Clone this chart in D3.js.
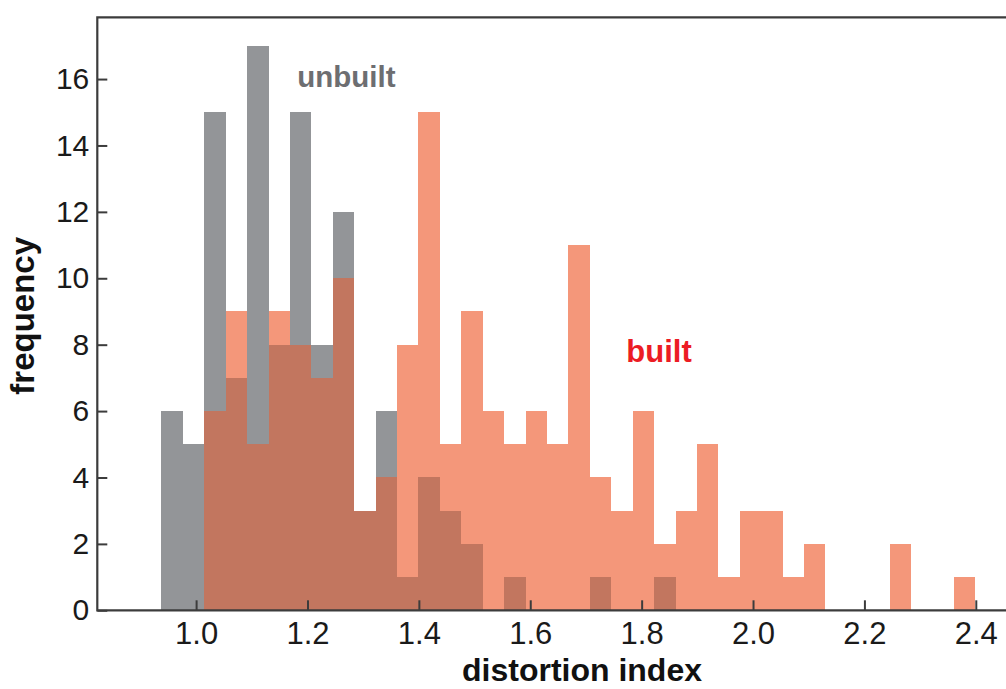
<!DOCTYPE html>
<html>
<head>
<meta charset="utf-8">
<script src="https://cdn.jsdelivr.net/npm/d3@7"></script>
<style>
  html, body { margin: 0; padding: 0; background: #fff; }
  svg { display: block; }
  text { font-family: "Liberation Sans", Arial, Helvetica, sans-serif; }
</style>
</head>
<body>
<svg id="chart" width="1006" height="689"></svg>
<script>
// Histogram binning (distortion index)
const binStart = 0.9377;
const binWidth = 0.038465;

// Counts per bin, unbuilt vs built
const unbuiltCounts = [6, 5, 15, 7, 17, 8, 15, 8, 12, 3, 6, 1, 4, 3, 2, 0, 1, 0, 0, 0,
                       1, 0, 0, 1, 0, 0, 0, 0, 0, 0, 0, 0, 0, 0, 0, 0, 0, 0];
const builtCounts   = [0, 0, 6, 9, 5, 9, 8, 7, 10, 3, 4, 8, 15, 5, 9, 6, 5, 6, 5, 11,
                       4, 3, 6, 2, 3, 5, 1, 3, 3, 1, 2, 0, 0, 0, 2, 0, 0, 1];

const xTicks = [1.0, 1.2, 1.4, 1.6, 1.8, 2.0, 2.2, 2.4];
const yTicks = [0, 2, 4, 6, 8, 10, 12, 14, 16];

const xDomain = [0.8226, 2.465];
const yDomain = [0, 17.86];

const colors = {
  unbuilt: "#939598",
  built: "#f4977a",
  overlap: "#c2765f",
  unbuiltText: "#6d6e71",
  builtText: "#ec1c24",
  axis: "#3c3c3c"
};

const svg = d3.select("#chart");
const plotLeft = 97.3, plotRight = 1012, plotTop = 17.3, plotBottom = 610.3;

const x = d3.scaleLinear().domain(xDomain).range([plotLeft, plotRight]);
const y = d3.scaleLinear().domain(yDomain).range([plotBottom, plotTop]);

const bins = unbuiltCounts.map((u, i) => ({
  x0: binStart + i * binWidth,
  x1: binStart + (i + 1) * binWidth,
  unbuilt: u,
  built: builtCounts[i],
  overlap: Math.min(u, builtCounts[i])
}));

function drawLayer(key, fill) {
  svg.append("g")
    .selectAll("rect")
    .data(bins.filter(d => d[key] > 0))
    .join("rect")
    .attr("x", d => x(d.x0))
    .attr("width", d => x(d.x1) - x(d.x0))
    .attr("y", d => y(d[key]))
    .attr("height", d => y(0) - y(d[key]))
    .attr("fill", fill)
    .attr("shape-rendering", "crispEdges");
}

drawLayer("unbuilt", colors.unbuilt);
drawLayer("built", colors.built);
drawLayer("overlap", colors.overlap);

// Axes with inward ticks
const xAxis = d3.axisBottom(x)
  .tickValues(xTicks)
  .tickFormat(d3.format(".1f"))
  .tickSizeInner(-10)
  .tickSizeOuter(0)
  .tickPadding(12);

const yAxis = d3.axisLeft(y)
  .tickValues(yTicks)
  .tickFormat(d3.format("d"))
  .tickSizeInner(-10)
  .tickSizeOuter(0)
  .tickPadding(8);

const gx = svg.append("g").attr("transform", `translate(0,${plotBottom})`).call(xAxis);
const gy = svg.append("g").attr("transform", `translate(${plotLeft},0)`).call(yAxis);

[gx, gy].forEach(g => {
  g.select(".domain").remove();
  g.selectAll(".tick line").attr("stroke", colors.axis).attr("stroke-width", 2);
  g.selectAll(".tick text")
    .attr("fill", "#1a1a1a")
    .style("font-family", "'Liberation Sans', Arial, sans-serif");
});
gx.selectAll(".tick text").style("font-size", "31px");
gy.selectAll(".tick text").style("font-size", "30px");

// Frame: left, bottom and top borders
svg.append("path")
  .attr("d", `M${plotRight},${plotTop}H${plotLeft}V${plotBottom}H${plotRight}`)
  .attr("fill", "none")
  .attr("stroke", colors.axis)
  .attr("stroke-width", 2.2);

// Axis titles
svg.append("text")
  .attr("transform", `translate(34,${(plotTop + plotBottom) / 2 + 2}) rotate(-90)`)
  .attr("text-anchor", "middle")
  .attr("font-size", 33)
  .attr("font-weight", "bold")
  .attr("fill", "#111")
  .text("frequency");

svg.append("text")
  .attr("x", 582)
  .attr("y", 681)
  .attr("text-anchor", "middle")
  .attr("font-size", 32)
  .attr("font-weight", "bold")
  .attr("fill", "#111")
  .text("distortion index");

// Series labels
svg.append("text")
  .attr("x", x(1.1815))
  .attr("y", 86.5)
  .attr("font-size", 29.5)
  .attr("font-weight", "bold")
  .attr("fill", colors.unbuiltText)
  .text("unbuilt");

svg.append("text")
  .attr("x", x(1.7725))
  .attr("y", 362)
  .attr("font-size", 31)
  .attr("font-weight", "bold")
  .attr("fill", colors.builtText)
  .text("built");
</script>
</body>
</html>
